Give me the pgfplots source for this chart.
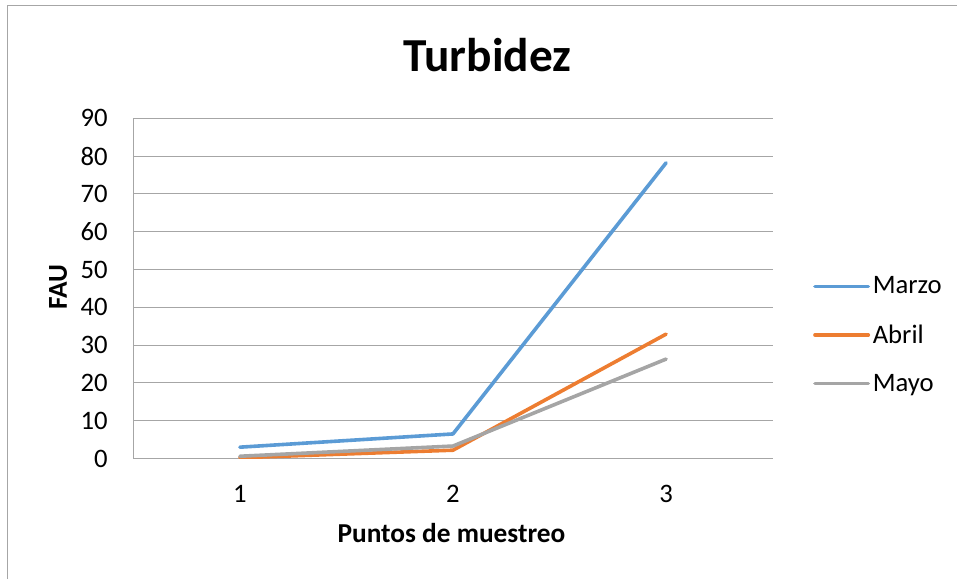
\documentclass[border=0pt]{standalone}
\usepackage{fontspec}
\setmainfont{Carlito}
\usepackage{pgfplots}
\pgfplotsset{compat=1.18}
\definecolor{marzo}{HTML}{5B9BD5}
\definecolor{abril}{HTML}{ED7D31}
\definecolor{mayo}{HTML}{A5A5A5}
\definecolor{gridgray}{HTML}{A6A6A6}
\begin{document}
\begin{tikzpicture}
\useasboundingbox (0pt,0pt) rectangle (717.75pt,-434.25pt);
\draw[gridgray, line width=1.1pt] (5.5pt,-434.25pt) -- (5.5pt,-4.3pt) -- (717.75pt,-4.3pt);
\begin{axis}[
  at={(99.98pt,-343.88pt)}, anchor=south west,
  scale only axis, width=479.5pt, height=255.2pt,
  xmin=0.5, xmax=3.5, ymin=0, ymax=90,
  xtick={1,2,3}, ytick={0,10,...,90},
  major tick length=0pt,
  axis y line*=left, axis x line*=bottom,
  axis line style={draw=gridgray, line width=0.8pt, -},
  ymajorgrids, major grid style={draw=gridgray, line width=0.8pt},
  /pgf/number format/assume math mode=true,
  tick label style={font=\fontsize{20}{24}\selectfont, inner sep=0pt},
  yticklabel style={anchor=east, xshift=-19pt},
  xticklabel style={anchor=north, yshift=-19.9pt},
  legend style={at={(1.063,0.363)}, anchor=west, draw=none, fill=none,
    font=\fontsize{20}{24}\selectfont, inner sep=0pt, row sep=17.6pt,
    nodes={inner sep=2pt}},
  legend cell align=left,
  legend image code/.code={\draw[#1, line cap=round] (0pt,0pt) -- (40pt,0pt);},
  every axis plot/.append style={line width=2.7pt, line cap=round, line join=round},
]
\addplot[marzo] coordinates {(1,3.0) (2,6.5) (3,78.2)};
\addlegendentry{Marzo}
\addplot[abril] coordinates {(1,0.2) (2,2.2) (3,32.9)};
\addlegendentry{Abril}
\addplot[mayo] coordinates {(1,0.6) (2,3.3) (3,26.3)};
\addlegendentry{Mayo}
\end{axis}
\node[anchor=base, inner sep=0pt, font=\fontsize{35.5}{40}\selectfont\bfseries] at (365.6pt,-53.8pt) {Turbidez};
\node[anchor=base, inner sep=0pt, font=\fontsize{20.5}{24}\selectfont\bfseries] at (338.6pt,-407pt) {Puntos de muestreo};
\node[rotate=90, inner sep=0pt, font=\fontsize{20.5}{24}\selectfont\bfseries] at (43.5pt,-215.3pt) {FAU};
\end{tikzpicture}
\end{document}
